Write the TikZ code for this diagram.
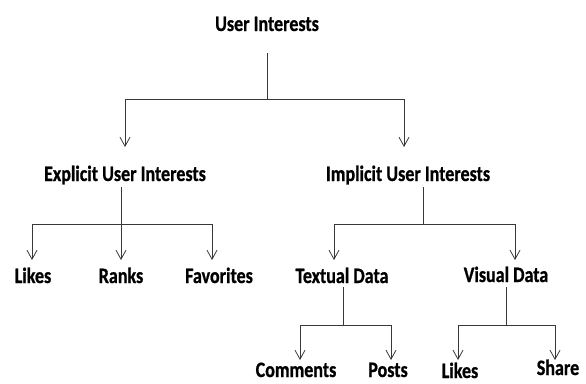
\documentclass[tikz,border=0pt]{standalone}
\usepackage{fontspec}
\setmainfont{Carlito}[FakeStretch=0.82,BoldFeatures={FakeBold=0.8}]
\usetikzlibrary{arrows.meta}
\begin{document}
\begin{tikzpicture}[x=1pt,y=-1pt,
  lbl/.style={inner sep=0pt,outer sep=0pt,anchor=base,
    text height=15pt,text depth=2pt,
    font=\bfseries\fontsize{22}{24}\selectfont},
  link/.style={draw=black!78,line width=0.9pt},
  arr/.style={link,-{Straight Barb[length=9pt,width=10pt,line width=0.8pt]}}]
\useasboundingbox (0,0) rectangle (586,383);

% labels
\node[lbl] (root) at (267,31) {User Interests};
\node[lbl] (exp)  at (125,181) {Explicit User Interests};
\node[lbl] (imp)  at (408,181) {Implicit User Interests};
\node[lbl] (likesA) at (33,283) {Likes};
\node[lbl] (ranks)  at (121,283) {Ranks};
\node[lbl] (fav)    at (219,283) {Favorites};
\node[lbl] (text)   at (342,283) {Textual Data};
\node[lbl] (vis)    at (506,282) {Visual Data};
\node[lbl] (comm)   at (296,377) {Comments};
\node[lbl] (posts)  at (388,377) {Posts};
\node[lbl] (likesB) at (460,378) {Likes};
\node[lbl] (share)  at (558,375) {Share};

% junctions of the branch bars
\coordinate (j0) at (267,99);
\coordinate (j1) at (121,224);
\coordinate (j2) at (423,224);
\coordinate (j3) at (343,325);
\coordinate (j4) at (506,325);

% top level
\draw[link,shorten <=20pt] (root.south) -- (j0);
\draw[arr,shorten >=19pt] (j0) -| (exp.north);
\draw[arr,shorten >=19pt] (j0) -| ([xshift=-4pt]imp.north);

% explicit branch
\draw[link,shorten <=4pt] ([xshift=-4pt]exp.south) -- (j1);
\draw[arr,shorten >=8pt] (j1) -| ([xshift=-1pt]likesA.north);
\draw[arr,shorten >=8pt] (j1) -- (ranks.north);
\draw[arr,shorten >=8pt] (j1) -| ([xshift=-7pt]fav.north);

% implicit branch
\draw[link,shorten <=4pt] ([xshift=15pt]imp.south) -- (j2);
\draw[arr,shorten >=8pt] (j2) -| ([xshift=-8pt]text.north);
\draw[arr,shorten >=7pt] (j2) -| ([xshift=9pt]vis.north);

% textual data
\draw[link,shorten <=2pt] ([xshift=1pt]text.south) -- (j3);
\draw[arr,shorten >=2pt] (j3) -| ([xshift=4pt]comm.north);
\draw[arr,shorten >=2pt] (j3) -| ([xshift=3pt]posts.north);

% visual data
\draw[link,shorten <=3pt] (vis.south) -- (j4);
\draw[arr,shorten >=3pt] (j4) -| ([xshift=-2pt]likesB.north);
\draw[arr,shorten >=0pt] (j4) -| ([xshift=-3pt]share.north);
\end{tikzpicture}
\end{document}
